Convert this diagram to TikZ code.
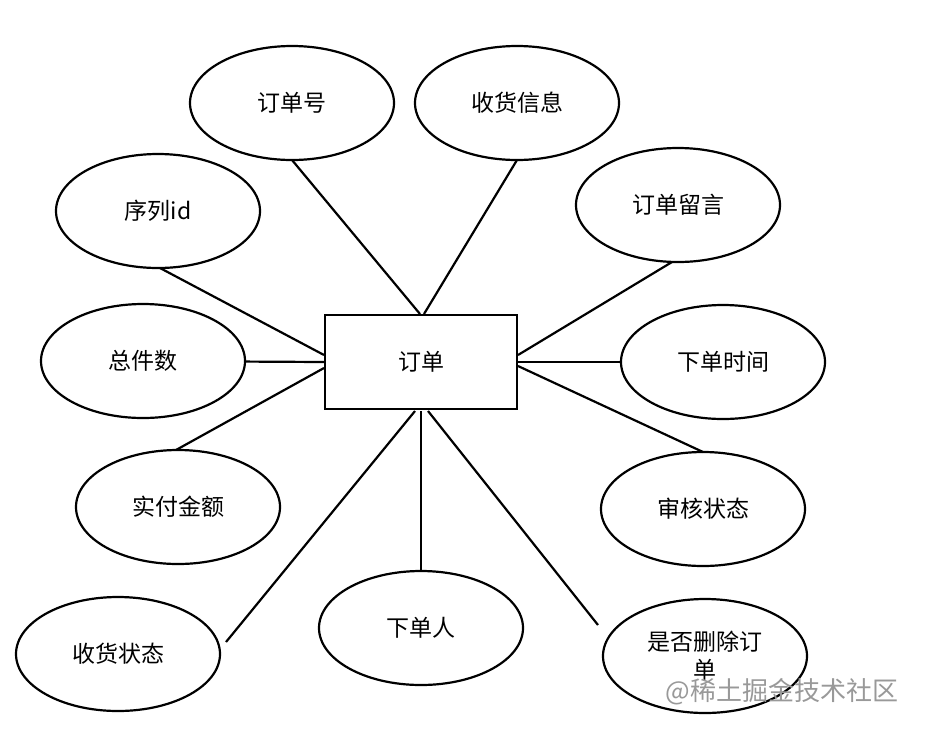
\documentclass[tikz,border=0pt]{standalone}
\usepackage{fontspec}
\usetikzlibrary{shapes.geometric}
\setmainfont{Noto Sans CJK SC}
\begin{document}
\begin{tikzpicture}[x=1pt,y=-1pt,
  attr/.style={draw,line width=2.2pt,ellipse,minimum width=204pt,minimum height=114pt,inner sep=0pt,font=\fontsize{23}{28}\selectfont},
  ent/.style={draw,line width=2.2pt,minimum width=192pt,minimum height=94pt,font=\fontsize{23}{28}\selectfont},
  ln/.style={line width=2.2pt}]
\useasboundingbox (0,0) rectangle (926,740);
\fill[white] (0,0) rectangle (926,740);
\node[ent] (o) at (421,362) {订单};
\node[attr] (a1) at (292,103) {订单号};
\node[attr] (a2) at (517,103) {收货信息};
\node[attr] (a3) at (158,211) {序列id};
\node[attr] (a4) at (678,205) {订单留言};
\node[attr] (a5) at (143,361) {总件数};
\node[attr] (a6) at (723,362) {下单时间};
\node[attr] (a7) at (178,507) {实付金额};
\node[attr] (a8) at (703,509) {审核状态};
\node[attr] (a9) at (118,654) {收货状态};
\node[attr] (a10) at (421,628) {下单人};
\node[attr,align=center] (a11) at (705,656) {是否删除订\\单};
\coordinate (t1) at (420,314);
\coordinate (t2) at (424,314);
\coordinate (t3) at (324,355);
\coordinate (t4) at (518,355);
\coordinate (t5) at (324,362);
\coordinate (t6) at (518,362);
\coordinate (t7) at (324,368);
\coordinate (t8) at (518,366);
\coordinate (t9) at (415,411);
\coordinate (t10) at (421,411);
\coordinate (t11) at (428,411);
\draw[ln] (292,160) -- (t1);
\draw[ln] (517,160) -- (t2);
\draw[ln] (160,268) -- (t3);
\draw[ln] (672,262) -- (t4);
\draw[ln] (a5) -- (t5);
\draw[ln] (a6) -- (t6);
\draw[ln] (176,450) -- (t7);
\draw[ln] (703,452) -- (t8);
\draw[ln] (226,642) -- (t9);
\draw[ln] (a10) -- (t10);
\draw[ln] (598,625) -- (t11);
\node[text=gray!80,font=\fontsize{26}{30}\selectfont,anchor=east] (w) at (902,692) {@稀土掘金技术社区};
\end{tikzpicture}
\end{document}
